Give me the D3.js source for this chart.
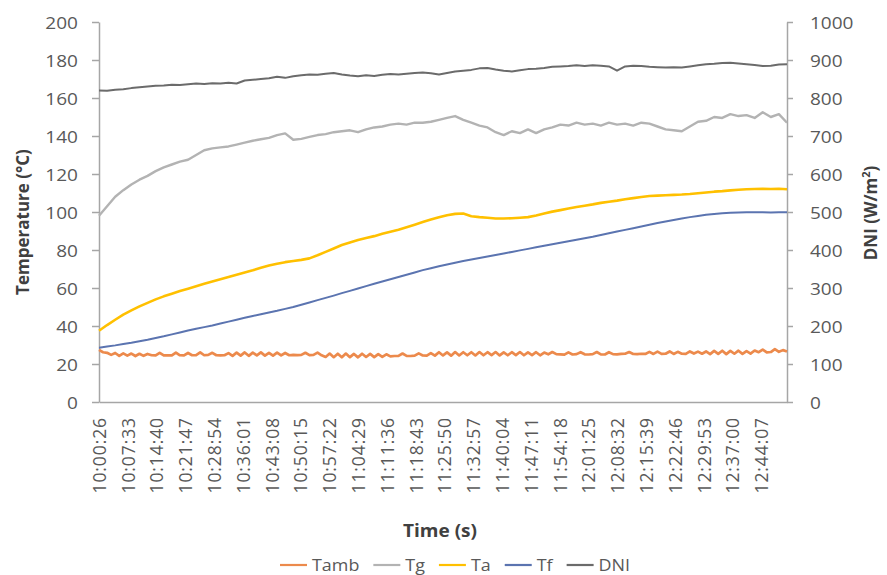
<!DOCTYPE html>
<html>
<head>
<meta charset="utf-8">
<script src="https://cdn.jsdelivr.net/npm/d3@7"></script>
<style>
  body { margin: 0; background: #fff; }
  text { font-family: "Open Sans", sans-serif; }
</style>
</head>
<body>
<svg id="chart" width="887" height="575"></svg>
<script>
// Temperatures and DNI logged from 10:00:26; the category axis labels every 427 s.
const stepSeconds = 120;        // Tg, Ta, Tf, DNI samples
const tambStepSeconds = 60;     // ambient sensor samples
const labelEverySeconds = 427;
const timeLabels = ["10:00:26","10:07:33","10:14:40","10:21:47","10:28:54","10:36:01","10:43:08","10:50:15",
  "10:57:22","11:04:29","11:11:36","11:18:43","11:25:50","11:32:57","11:40:04","11:47:11","11:54:18",
  "12:01:25","12:08:32","12:15:39","12:22:46","12:29:53","12:37:00","12:44:07"];

const tempTicks = [0,20,40,60,80,100,120,140,160,180,200];
const dniTicks = [0,100,200,300,400,500,600,700,800,900,1000];

// Ambient temperature (°C), one value per minute
const tamb = [27.4,26.2,25.9,24.8,25.8,
  24.3,25.6,24.4,25.5,24.2,25.4,24.3,25.3,
  24.6,24.5,25.9,24.5,24.6,24.5,26.0,24.6,24.5,25.8,24.6,24.7,26.1,24.6,24.8,25.9,24.6,24.5,24.6,25.7,
  24.3,26.0,24.4,26.1,24.3,26.0,24.5,26.1,24.4,25.9,24.4,26.0,24.5,25.8,24.6,
  24.8,24.7,24.8,25.9,24.7,24.8,26.0,24.6,
  23.7,25.5,23.6,25.4,23.5,25.5,23.6,25.3,23.5,25.4,23.7,25.3,23.6,25.2,23.8,25.1,24.0,
  24.2,24.3,25.5,24.3,24.2,24.4,25.6,24.5,24.4,25.7,
  24.4,26.2,24.5,26.1,24.4,26.3,24.5,26.2,24.6,26.2,24.5,26.3,24.6,26.2,24.7,26.3,24.5,26.1,24.6,26.2,
  24.7,26.3,24.6,26.1,24.7,26.2,24.6,26.0,
  25.1,26.3,25.2,25.1,24.9,26.1,25.0,25.2,26.2,25.1,25.0,25.2,26.3,25.1,25.0,26.2,25.2,25.1,
  25.3,25.4,26.3,25.3,25.2,25.4,25.3,26.4,25.3,
  26.5,25.3,25.4,26.6,25.3,26.4,25.4,25.3,26.6,25.5,26.5,25.4,26.6,
  25.2,26.9,25.3,27.0,25.2,26.9,25.4,27.0,25.3,26.8,25.5,27.1,
  26.2,27.6,26.1,26.3,27.8,26.4,27.3,26.6];

// Glass cover temperature (°C)
const tg = [98.0,103.0,108.0,111.5,114.5,117.0,119.0,121.5,123.5,125.0,126.5,127.5,130.0,132.5,133.5,134.0,134.5,135.5,136.5,137.5,
  138.3,139.0,140.5,141.4,138.0,138.5,139.5,140.5,141.0,142.0,142.5,143.0,142.0,143.5,144.5,145.0,146.0,146.5,146.0,147.0,
  147.0,147.5,148.5,149.5,150.5,148.5,147.0,145.5,144.5,142.0,140.5,142.5,141.5,143.5,141.5,143.5,144.5,146.0,145.5,147.0,
  146.0,146.5,145.5,147.0,146.0,146.5,145.5,147.0,146.5,145.0,143.5,143.0,142.5,145.0,147.5,148.0,150.0,149.5,151.5,150.5,
  151.0,149.5,152.5,150.0,151.5,147.0];

// Absorber temperature (°C)
const ta = [37.5,40.5,43.3,46.0,48.2,50.3,52.2,54.0,55.6,57.0,58.4,59.6,60.9,62.2,63.4,64.6,65.8,67.0,68.2,69.3,
  70.6,71.8,72.8,73.6,74.2,74.8,75.6,77.2,79.0,80.8,82.6,84.0,85.3,86.3,87.3,88.5,89.6,90.7,92.0,93.3,
  94.7,96.0,97.2,98.3,99.0,99.2,97.8,97.3,97.0,96.6,96.6,96.7,97.0,97.3,98.2,99.2,100.2,101.0,101.8,102.6,
  103.3,104.0,104.8,105.4,106.0,106.7,107.3,107.9,108.4,108.6,108.8,109.0,109.2,109.5,109.9,110.3,110.7,111.0,111.4,111.7,
  112.0,112.1,112.2,112.1,112.2,112.0];

// Fluid temperature (°C)
const tf = [28.6,29.2,29.8,30.5,31.2,32.0,32.8,33.7,34.6,35.6,36.6,37.6,38.5,39.4,40.3,41.3,42.3,43.3,44.3,45.3,
  46.2,47.1,48.0,49.0,50.0,51.2,52.4,53.6,54.8,56.0,57.3,58.5,59.7,61.0,62.2,63.4,64.6,65.8,67.0,68.2,
  69.4,70.4,71.4,72.4,73.3,74.2,75.0,75.8,76.6,77.4,78.2,79.0,79.8,80.6,81.4,82.2,83.0,83.8,84.6,85.4,
  86.2,87.0,87.9,88.8,89.7,90.6,91.5,92.4,93.3,94.2,95.0,95.8,96.6,97.3,97.9,98.5,99.0,99.4,99.6,99.8,
  99.9,99.9,99.9,99.8,99.9,99.9];

// Direct normal irradiance (W/m²)
const dni = [820,819,822,823,826,828,830,832,833,835,834,836,838,837,839,838,840,838,846,848,
  850,852,856,853,857,860,862,861,864,866,862,859,857,860,858,861,863,862,864,866,
  867,865,862,866,870,872,874,878,879,875,872,870,873,876,877,879,882,883,884,886,
  884,886,885,883,872,883,885,884,882,881,880,881,880,883,886,889,890,892,893,891,
  889,887,884,885,888,889];

const seriesInfo = [
  { name: "Tamb", values: tamb, step: tambStepSeconds, axis: "temp", color: "#ec8a4c", width: 2.7 },
  { name: "Tg",   values: tg,   step: stepSeconds, axis: "temp", color: "#b3b3b3", width: 2.4 },
  { name: "Ta",   values: ta,   step: stepSeconds, axis: "temp", color: "#ffc000", width: 2.6 },
  { name: "Tf",   values: tf,   step: stepSeconds, axis: "temp", color: "#5b74b0", width: 2.0 },
  { name: "DNI",  values: dni,  step: stepSeconds, axis: "dni",  color: "#6b6b6b", width: 2.0 }
];

const stretch = 1.12;           // horizontal glyph widening for the Calibri-like look
const axisColor = "#a6a6a6";
const labelColor = "#595959";
const titleColor = "#404040";

const svg = d3.select("#chart");
const plotLeft = 99, plotRight = 787, plotTop = 22, plotBottom = 402;

const x = d3.scaleLinear().domain([0, (ta.length - 1) * stepSeconds]).range([plotLeft, plotRight]);
const yT = d3.scaleLinear().domain([0, 200]).range([plotBottom, plotTop]);
const yD = d3.scaleLinear().domain([0, 1000]).range([plotBottom, plotTop]);

function styleAxis(g) {
  g.select(".domain").attr("stroke", axisColor).attr("stroke-width", 1.5);
  g.selectAll(".tick line").attr("stroke", axisColor).attr("stroke-width", 1.5);
  g.selectAll("text").attr("fill", labelColor).attr("font-size", 17);
}

// Left temperature axis
const gL = svg.append("g").attr("transform", `translate(${plotLeft},0)`)
  .call(d3.axisLeft(yT).tickValues(tempTicks).tickSize(7).tickSizeOuter(0).tickFormat(d3.format("d")));
styleAxis(gL);
gL.selectAll(".tick text").attr("x", -21 / stretch).attr("dy", "0.36em")
  .attr("transform", `scale(${stretch},1)`);

// Right DNI axis
const gR = svg.append("g").attr("transform", `translate(${plotRight},0)`)
  .call(d3.axisRight(yD).tickValues(dniTicks).tickSize(6).tickSizeOuter(0).tickFormat(d3.format("d")));
styleAxis(gR);
gR.selectAll(".tick text").attr("x", 23 / stretch).attr("dy", "0.36em")
  .attr("transform", `scale(${stretch},1)`);

// Bottom time axis
const gB = svg.append("g").attr("transform", `translate(0,${plotBottom})`)
  .call(d3.axisBottom(x).tickValues(timeLabels.map((_, k) => k * labelEverySeconds))
    .tickSize(0).tickSizeOuter(0).tickFormat((d, k) => timeLabels[k]));
styleAxis(gB);
gB.selectAll(".tick text")
  .attr("transform", "rotate(-90)")
  .attr("text-anchor", "end")
  .attr("font-size", 17.5)
  .attr("letter-spacing", 0.9)
  .attr("x", -15).attr("y", 0).attr("dy", "0.36em");

// Lines
seriesInfo.forEach(s => {
  const yScale = s.axis === "temp" ? yT : yD;
  svg.append("path")
    .datum(s.values)
    .attr("fill", "none")
    .attr("stroke", s.color)
    .attr("stroke-width", s.width)
    .attr("stroke-linejoin", "round")
    .attr("d", d3.line().x((d, i) => x(i * s.step)).y(d => yScale(d)));
});

// Axis titles
svg.append("text")
  .attr("transform", `translate(29,222) rotate(-90)`)
  .attr("text-anchor", "middle")
  .attr("font-size", 17).attr("font-weight", 700).attr("fill", titleColor)
  .text("Temperature (°C)");

const dniTitle = svg.append("text")
  .attr("transform", `translate(877,213) rotate(-90)`)
  .attr("text-anchor", "middle")
  .attr("font-size", 17).attr("font-weight", 700).attr("fill", titleColor);
dniTitle.append("tspan").text("DNI (W/m");
dniTitle.append("tspan").attr("font-size", 11).attr("dy", "-0.6em").text("2");
dniTitle.append("tspan").attr("dy", "0.4em").text(")");

svg.append("g").attr("transform", `translate(440,537) scale(${stretch},1)`)
  .append("text")
  .attr("text-anchor", "middle")
  .attr("font-size", 17).attr("font-weight", 700).attr("fill", titleColor)
  .text("Time (s)");

// Legend
const legend = svg.append("g");
let lx = 280;
const ly = 565;
seriesInfo.forEach(s => {
  legend.append("line")
    .attr("x1", lx).attr("x2", lx + 27).attr("y1", ly).attr("y2", ly)
    .attr("stroke", s.color).attr("stroke-width", 2.2);
  const g = legend.append("g").attr("transform", `translate(${lx + 32},${ly}) scale(${stretch},1)`);
  const txt = g.append("text").attr("dy", "0.36em").attr("font-size", 16).attr("fill", labelColor).text(s.name);
  lx += 32 + txt.node().getComputedTextLength() * stretch + 14;
});
</script>
</body>
</html>
